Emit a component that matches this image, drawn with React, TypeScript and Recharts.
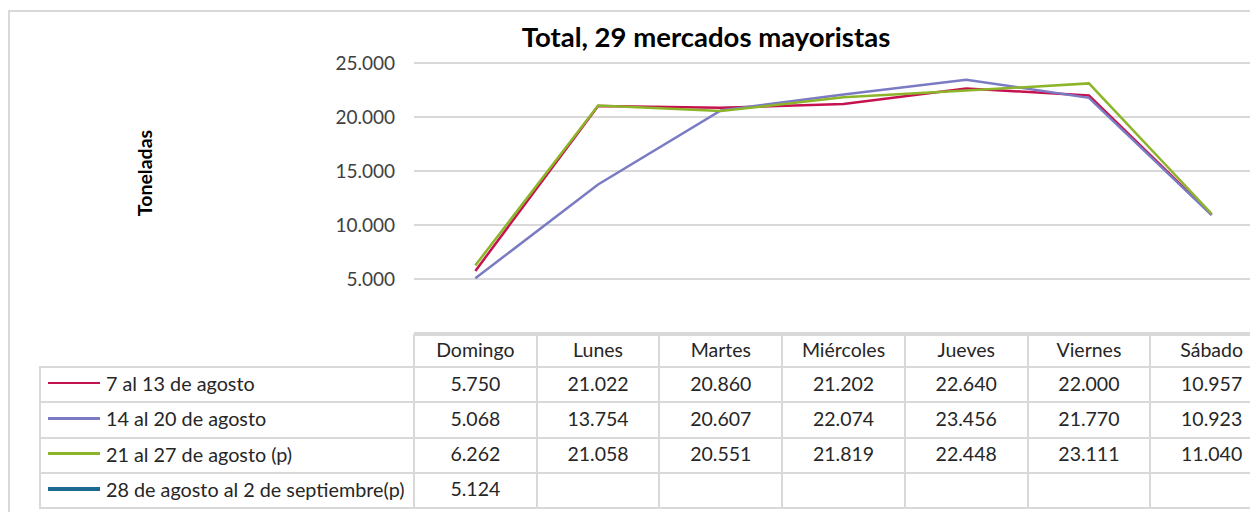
import React from 'react';
import { LineChart, Line, XAxis, YAxis, CartesianGrid } from 'recharts';

const DAYS = ['Domingo', 'Lunes', 'Martes', 'Miércoles', 'Jueves', 'Viernes', 'Sábado'];
const SERIES_NAMES = [
  '7 al 13 de agosto',
  '14 al 20 de agosto',
  '21 al 27 de agosto (p)',
  '28 de agosto al 2 de septiembre(p)',
];
const S1 = [5750, 21022, 20860, 21202, 22640, 22000, 10957];
const S2 = [5068, 13754, 20607, 22074, 23456, 21770, 10923];
const S3 = [6262, 21058, 20551, 21819, 22448, 23111, 11040];
const S4: (number | null)[] = [5124, null, null, null, null, null, null];
const Y_TICKS = [0, 5000, 10000, 15000, 20000, 25000];
const COLORS = ['#C5124F', '#7B7BC4', '#8DB52A', '#1A6A8F'];
const TITLE = 'Total, 29 mercados mayoristas';
const Y_LABEL = 'Toneladas';

const SERIES = [S1, S2, S3, S4];
const data = DAYS.map((d, i) => ({
  day: d,
  s0: S1[i],
  s1: S2[i],
  s2: S3[i],
  s3: S4[i],
}));

const fmt = (n: number | null) =>
  n === null || n === undefined ? '' : String(n).replace(/\B(?=(\d{3})+(?!\d))/g, '.');

// layout (page coordinates; wrapper sits at page 8,8)
const O = 8;
const PLOT_L = 414;
const PLOT_R = 1273;
const PLOT_T = 63;
const PLOT_B = 333;
const CHART_W = 1300;
const CHART_H = 340;
const FONT = 'Lato, "Noto Sans", sans-serif';
const GRID = '#d9d9d9';
const TXT = '#262626';

const TABLE_L = 40;
const HEAD_T = 335;
const HEAD_B = 367;
const TABLE_B = 508;

export default function App() {
  const colW = (PLOT_R - PLOT_L) / DAYS.length;
  const rowH = (TABLE_B - HEAD_B) / SERIES.length;
  const colX = DAYS.map((_, i) => PLOT_L + i * colW);

  const lines: React.ReactNode[] = [];
  lines.push(
    <div key="h-top" style={{ position: 'absolute', left: PLOT_L - O - 1, top: HEAD_T - O - 1, width: PLOT_R - PLOT_L + 2, height: 2, background: GRID }} />
  );
  for (let r = 0; r <= SERIES.length; r++) {
    const y = HEAD_B + r * rowH;
    lines.push(
      <div key={'h' + r} style={{ position: 'absolute', left: TABLE_L - O - 1, top: y - O - 1, width: PLOT_R - TABLE_L + 2, height: 2, background: GRID }} />
    );
  }
  lines.push(
    <div key="v-left" style={{ position: 'absolute', left: TABLE_L - O - 1, top: HEAD_B - O - 1, width: 2, height: TABLE_B - HEAD_B + 2, background: GRID }} />
  );
  for (let c = 0; c <= DAYS.length; c++) {
    const x = PLOT_L + c * colW;
    lines.push(
      <div key={'v' + c} style={{ position: 'absolute', left: x - O - 1, top: HEAD_T - O - 1, width: 2, height: TABLE_B - HEAD_T + 2, background: GRID }} />
    );
  }

  const cellStyle = (left: number, top: number, w: number, h: number): React.CSSProperties => ({
    position: 'absolute',
    left: left - O,
    top: top - O - 1.5,
    width: w,
    height: h,
    display: 'flex',
    alignItems: 'center',
    justifyContent: 'center',
    fontFamily: FONT,
    fontSize: 19.5,
    color: TXT,
    whiteSpace: 'nowrap',
  });

  return (
    <div style={{ position: 'relative', width: 1250, height: 504, overflow: 'hidden', background: '#fff' }}>
      {/* outer frame */}
      <div style={{ position: 'absolute', left: 0, top: 11 - O - 1, width: 1300, height: 530, border: `2px solid ${GRID}`, boxSizing: 'border-box' }} />

      {/* title */}
      <div
        style={{
          position: 'absolute',
          left: 706 - O - 300,
          width: 600,
          top: 20 - O,
          textAlign: 'center',
          fontFamily: FONT,
          fontWeight: 700,
          fontSize: 27.5,
          color: '#000',
          whiteSpace: 'nowrap',
        }}
      >
        {TITLE}
      </div>

      {/* y-axis title */}
      <div
        style={{
          position: 'absolute',
          left: 145 - O - 60,
          top: 173 - O - 12,
          width: 120,
          height: 24,
          lineHeight: '24px',
          textAlign: 'center',
          transform: 'rotate(-90deg)',
          fontFamily: FONT,
          fontWeight: 700,
          fontSize: 19.5,
          color: '#000',
        }}
      >
        {Y_LABEL}
      </div>

      <div style={{ position: 'absolute', left: 0, top: 0 }}>
        <LineChart
          width={CHART_W}
          height={CHART_H}
          data={data}
          margin={{ top: PLOT_T - O, right: CHART_W - (PLOT_R - O), bottom: CHART_H - (PLOT_B - O), left: 0 }}
        >
          <CartesianGrid vertical={false} stroke={GRID} strokeWidth={2} />
          <XAxis dataKey="day" hide scale="band" />
          <YAxis
            width={PLOT_L - O}
            domain={[0, 25000]}
            ticks={Y_TICKS}
            axisLine={false}
            tickLine={false}
            tickSize={0}
            tickMargin={19}
            tickFormatter={(v: number) => (v === 0 ? '' : fmt(v))}
            tick={{ fill: '#404040', fontSize: 19, fontFamily: FONT }}
          />
          {SERIES.map((_, i) => (
            <Line
              key={i}
              type="linear"
              dataKey={'s' + i}
              name={SERIES_NAMES[i]}
              stroke={COLORS[i]}
              strokeWidth={2.5}
              dot={false}
              activeDot={false}
              isAnimationActive={false}
              connectNulls={false}
            />
          ))}
        </LineChart>
      </div>

      {/* data table */}
      {lines}
      {DAYS.map((d, c) => (
        <div key={'hd' + c} style={cellStyle(colX[c], HEAD_T, colW, HEAD_B - HEAD_T)}>
          {d}
        </div>
      ))}
      {SERIES.map((vals, r) => (
        <React.Fragment key={'row' + r}>
          <div
            style={{
              ...cellStyle(TABLE_L, HEAD_B + r * rowH, PLOT_L - TABLE_L, rowH),
              justifyContent: 'flex-start',
              fontSize: 19.8,
            }}
          >
            <span
              style={{
                display: 'inline-block',
                marginLeft: 8,
                width: 52,
                height: r === 3 ? 3.5 : 2.5,
                background: COLORS[r],
                marginRight: 6,
              }}
            />
            {SERIES_NAMES[r]}
          </div>
          {vals.map((v, c) => (
            <div key={'c' + r + '-' + c} style={cellStyle(colX[c], HEAD_B + r * rowH, colW, rowH)}>
              {fmt(v)}
            </div>
          ))}
        </React.Fragment>
      ))}
    </div>
  );
}
